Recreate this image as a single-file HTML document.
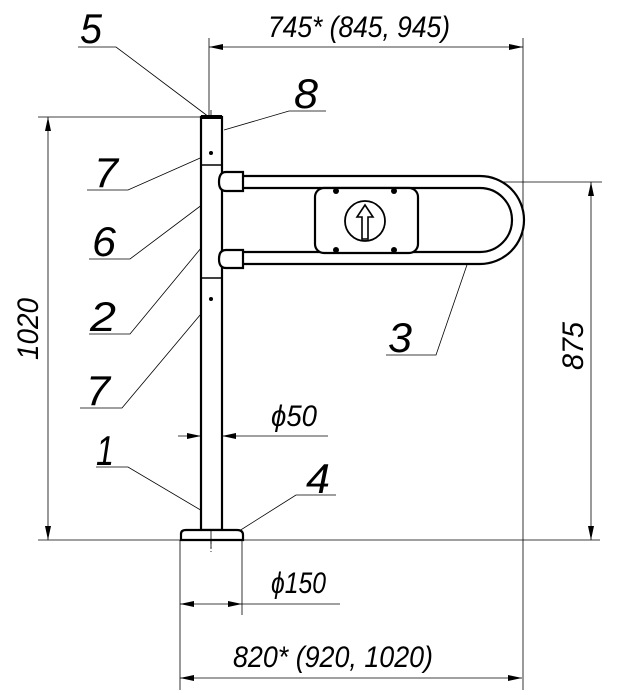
<!DOCTYPE html>
<html><head><meta charset="utf-8"><style>
html,body{margin:0;padding:0;background:#fff}
svg{display:block}
text{font-family:"Liberation Sans",sans-serif;font-style:italic;fill:#000}
</style></head><body>
<svg width="629" height="695" viewBox="0 0 629 695" xmlns="http://www.w3.org/2000/svg">
<defs>
<marker id="a" viewBox="0 0 14 6" refX="14" refY="3" markerWidth="14" markerHeight="6" orient="auto-start-reverse" markerUnits="userSpaceOnUse"><path d="M0,0 L14,3 L0,6 z" fill="#000"/></marker>
</defs>
<g stroke="#000" stroke-width="0.8" fill="none">
<line x1="209" y1="38" x2="209" y2="117"/>
<line x1="523" y1="38" x2="523" y2="690"/>
<line x1="38" y1="117" x2="205" y2="117"/>
<line x1="38" y1="540" x2="600" y2="540"/>
<line x1="230" y1="182" x2="602" y2="182"/>
<line x1="180" y1="540" x2="180" y2="690"/>
<line x1="242" y1="540" x2="242" y2="615"/>
<line x1="209" y1="47" x2="523" y2="47" marker-start="url(#a)" marker-end="url(#a)"/>
<line x1="48" y1="117" x2="48" y2="540" marker-start="url(#a)" marker-end="url(#a)"/>
<line x1="591" y1="182" x2="591" y2="540" marker-start="url(#a)" marker-end="url(#a)"/>
<line x1="178" y1="436" x2="201" y2="436" marker-end="url(#a)"/>
<line x1="238" y1="436" x2="222" y2="436" marker-end="url(#a)"/>
<line x1="238" y1="436" x2="328" y2="436"/>
<line x1="180" y1="604" x2="242" y2="604" marker-start="url(#a)" marker-end="url(#a)"/>
<line x1="242" y1="604" x2="340" y2="604"/>
<line x1="180" y1="678" x2="522" y2="678" marker-start="url(#a)" marker-end="url(#a)"/>
<polyline points="78,47 116,47 209,117"/>
<polyline points="326,111 289,111 224,130"/>
<polyline points="87,190 128,190 207,155"/>
<polyline points="89,259 130,259 231,183"/>
<polyline points="89,334 130,334 211,236"/>
<polyline points="80,408 122,408 211,302"/>
<polyline points="96,467 128,467 209,515"/>
<polyline points="336,495 296,495 228,538"/>
<polyline points="386,355 436,355 469,259"/>
<line x1="211" y1="110" x2="211" y2="552" stroke-dasharray="18,3,2,3"/>
<line x1="215" y1="182" x2="490" y2="182" stroke-dasharray="18,3,2,3"/>
<line x1="215" y1="258" x2="490" y2="258" stroke-dasharray="18,3,2,3"/>
<line x1="336" y1="182" x2="336" y2="198"/><line x1="394" y1="182" x2="394" y2="198"/>
<line x1="336" y1="243" x2="336" y2="258"/><line x1="394" y1="243" x2="394" y2="258"/>
<path d="M490,188 A32,32 0 0 1 490,252"/>
</g>
<g stroke="#000" stroke-width="2.2" fill="#fff">
<path d="M240,176 L480,176 A44,44 0 0 1 480,264 L240,264 L240,252 L480,252 A32,32 0 0 0 480,188 L240,188 Z"/>
<rect x="201" y="117" width="21" height="413"/>
<line x1="201" y1="165" x2="222" y2="165" stroke-width="1.4"/>
<line x1="201" y1="278" x2="222" y2="278" stroke-width="1.4"/>
<line x1="201" y1="117" x2="222" y2="117" stroke-width="4"/>
<path d="M181,540 L181,534 Q181,530 186,530 L237,530 Q243,530 243,535 L243,540 Z"/>
<path d="M226,172 L243,172 L243,191 L226,191 Q219,191 219,182 Q219,172 226,172 Z"/>
<path d="M226,250 L243,250 L243,268 L226,268 Q219,268 219,259 Q219,250 226,250 Z"/>
<rect x="315" y="188" width="103" height="65" rx="9"/>
<circle cx="365" cy="221" r="20" stroke-width="1.8"/>
<path d="M362,239 L362,217 L357,217 L365,205 L373,217 L368,217 L368,239 Z" stroke-width="1.6"/>
</g>
<line x1="211" y1="530" x2="211" y2="552" stroke="#000" stroke-width="0.8" stroke-dasharray="18,3,2,3"/>
<g fill="#000">
<circle cx="336" cy="191" r="3"/><circle cx="394" cy="191" r="3"/>
<circle cx="336" cy="250" r="3"/><circle cx="394" cy="250" r="3"/>
<circle cx="211" cy="153" r="2"/><circle cx="211" cy="299" r="2"/>
</g>
<g font-size="42" lengthAdjust="spacingAndGlyphs">
<text x="80" y="43" textLength="22" lengthAdjust="spacingAndGlyphs">5</text>
<text x="294" y="108" textLength="24" lengthAdjust="spacingAndGlyphs">8</text>
<text x="94" y="187" textLength="24" lengthAdjust="spacingAndGlyphs">7</text>
<text x="92" y="256" textLength="24" lengthAdjust="spacingAndGlyphs">6</text>
<text x="90" y="331" textLength="26" lengthAdjust="spacingAndGlyphs">2</text>
<text x="86" y="405" textLength="24" lengthAdjust="spacingAndGlyphs">7</text>
<text x="96" y="465" textLength="18" lengthAdjust="spacingAndGlyphs">1</text>
<text x="306" y="493" textLength="24" lengthAdjust="spacingAndGlyphs">4</text>
<text x="388" y="352" textLength="24" lengthAdjust="spacingAndGlyphs">3</text>
</g>
<g font-size="30">
<text x="268" y="37" textLength="182" lengthAdjust="spacingAndGlyphs">745* (845, 945)</text>
<text x="271" y="426" textLength="46" lengthAdjust="spacingAndGlyphs">ϕ50</text>
<text x="271" y="593" textLength="55" lengthAdjust="spacingAndGlyphs">ϕ150</text>
<text x="233" y="667" textLength="200" lengthAdjust="spacingAndGlyphs">820* (920, 1020)</text>
<text transform="translate(38,360) rotate(-90)" textLength="62" lengthAdjust="spacingAndGlyphs">1020</text>
<text transform="translate(583,370) rotate(-90)" textLength="48" lengthAdjust="spacingAndGlyphs">875</text>
</g>
</svg>
</body></html>
